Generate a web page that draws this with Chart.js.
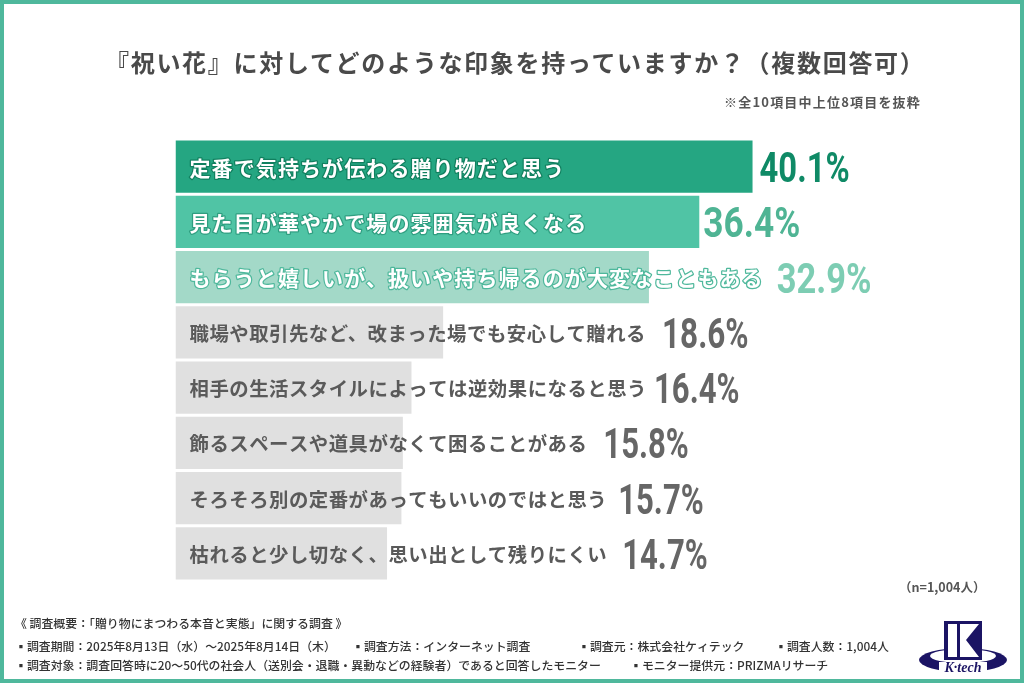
<!DOCTYPE html>
<html lang="ja"><head><meta charset="utf-8">
<script src="https://cdn.jsdelivr.net/npm/chart.js@4"></script>
<style>
html,body{margin:0;padding:0;background:#fff;width:1024px;height:683px;overflow:hidden}
body{position:relative;font-family:"Noto Sans CJK JP","Noto Sans",sans-serif}
#c{position:absolute;left:0;top:0}
#frame{position:absolute;left:0;top:0;width:1024px;height:683px;box-sizing:border-box;border:4px solid #4fb89c;pointer-events:none}
.t{position:absolute;white-space:nowrap;line-height:1;color:#444}
#title{left:105px;top:50px;font-size:24px;font-weight:700;letter-spacing:1.7px;color:#4a4a4a}
#note{left:724px;top:95px;font-size:13px;font-weight:700;color:#555;letter-spacing:1.2px}
#n{left:899px;top:581px;font-size:12.5px;font-weight:700;color:#555}
.f{font-size:11.9px;font-weight:500;color:#333}
#logo{position:absolute;left:917px;top:618px}
</style></head><body>
<canvas id="c" width="1024" height="683"></canvas>
<div id="frame"></div>
<div class="t" id="title">『祝い花』に対してどのような印象を持っていますか？（複数回答可）</div>
<div class="t" id="note">※全10項目中上位8項目を抜粋</div>
<div class="t" id="n">（n=1,004人）</div>
<div class="t f" style="left:15px;top:617px">《 調査概要：「贈り物にまつわる本音と実態」に関する調査 》</div>
<div class="t f" style="left:15px;top:640px">▪調査期間：2025年8月13日（水）〜2025年8月14日（木）</div>
<div class="t f" style="left:352px;top:640px">▪調査方法：インターネット調査</div>
<div class="t f" style="left:578px;top:640px">▪調査元：株式会社ケィテック</div>
<div class="t f" style="left:775px;top:640px">▪調査人数：1,004人</div>
<div class="t f" style="left:15px;top:659px">▪調査対象：調査回答時に20〜50代の社会人（送別会・退職・異動などの経験者）であると回答したモニター</div>
<div class="t f" style="left:630px;top:659px">▪モニター提供元：PRIZMAリサーチ</div>
<svg id="logo" width="92" height="56" viewBox="0 0 92 56">
<ellipse cx="46" cy="42" rx="44" ry="12" fill="#1b1464"/>
<ellipse cx="46" cy="38" rx="33" ry="7" fill="#fff"/>
<rect x="27" y="3" width="38" height="39" fill="#1b1464"/>
<rect x="31" y="6" width="9" height="33" fill="#fff"/>
<path d="M43 6H62L49 22 62 39H43Z" fill="#fff"/>
<rect x="22" y="44" width="48" height="11" fill="#fff"/>
<text x="46" y="54" text-anchor="middle" font-family="Liberation Serif" font-style="italic" font-weight="700" font-size="14" fill="#1b1464">K·tech</text>
</svg>
<script>
const categories = [
  "定番で気持ちが伝わる贈り物だと思う",
  "見た目が華やかで場の雰囲気が良くなる",
  "もらうと嬉しいが、扱いや持ち帰るのが大変なこともある",
  "職場や取引先など、改まった場でも安心して贈れる",
  "相手の生活スタイルによっては逆効果になると思う",
  "飾るスペースや道具がなくて困ることがある",
  "そろそろ別の定番があってもいいのではと思う",
  "枯れると少し切なく、思い出として残りにくい"
];
const percentValues = [40.1, 36.4, 32.9, 18.6, 16.4, 15.8, 15.7, 14.7];
const barColors = ["#25a682","#50c4a5","#a3d9c8","#e0e0e0","#e0e0e0","#e0e0e0","#e0e0e0","#e0e0e0"];
const valueColors = ["#0f8a66","#4fb494","#7dcdb3","#666666","#666666","#666666","#666666","#666666"];
const labelFill = ["#fff","#fff","#fff","#5a5a5a","#5a5a5a","#5a5a5a","#5a5a5a","#5a5a5a"];
const labelOutline = ["#11805f","#2f9e80","#4fb89c",null,null,null,null,null];
const labelSize = [21,21,21,19.4,19.4,19.4,19.4,19.4];
const labelSpacing = [1.1,1.1,1.1,.5,.5,.5,.5,.5];
const valueScale = [.78,.84,.82,.75,.74,.74,.74,.74];
const valueGapBar = [7,4,7,7,7,7,7,7];
const valueGapLabel = [14,14,13,16,7,16,11,15];

const labelsPlugin = {
  id:'barText',
  afterDatasetsDraw(chart){
    const {ctx} = chart, meta = chart.getDatasetMeta(0);
    ctx.save();
    ctx.textBaseline = 'middle';
    meta.data.forEach((bar,i)=>{
      const x = chart.chartArea.left + 14, y = bar.y + 1;
      ctx.font = `700 ${labelSize[i]}px "Noto Sans CJK JP"`;
      ctx.letterSpacing = labelSpacing[i] + 'px';
      ctx.textAlign = 'left';
      ctx.lineJoin = 'round';
      const w = ctx.measureText(categories[i]).width;
      if(labelOutline[i]){
        ctx.strokeStyle = labelOutline[i]; ctx.lineWidth = 2.5;
        ctx.strokeText(categories[i], x, y);
      }
      ctx.fillStyle = labelFill[i];
      ctx.fillText(categories[i], x, y);
      ctx.letterSpacing = '0px';
      const vx = Math.max(bar.x + valueGapBar[i], x + w + valueGapLabel[i]);
      ctx.font = '700 42px Roboto';
      ctx.fillStyle = valueColors[i];
      ctx.save();
      ctx.translate(vx, y + 4);
      ctx.scale(valueScale[i], 1);
      ctx.fillText(percentValues[i].toFixed(1) + '%', 0, 0);
      ctx.restore();
    });
    ctx.restore();
  }
};
new Chart(document.getElementById('c'),{
  type:'bar',
  data:{labels:categories,datasets:[{data:percentValues,backgroundColor:barColors,borderWidth:0,categoryPercentage:1,barPercentage:0.945}]},
  options:{
    indexAxis:'y',responsive:false,animation:false,devicePixelRatio:1,
    layout:{padding:{left:175.5,right:129,top:139,bottom:102}},
    plugins:{legend:{display:false},tooltip:{enabled:false},title:{display:false}},
    scales:{x:{display:false,min:0,max:50},y:{display:false}}
  },
  plugins:[labelsPlugin]
});
</script>
</body></html>
